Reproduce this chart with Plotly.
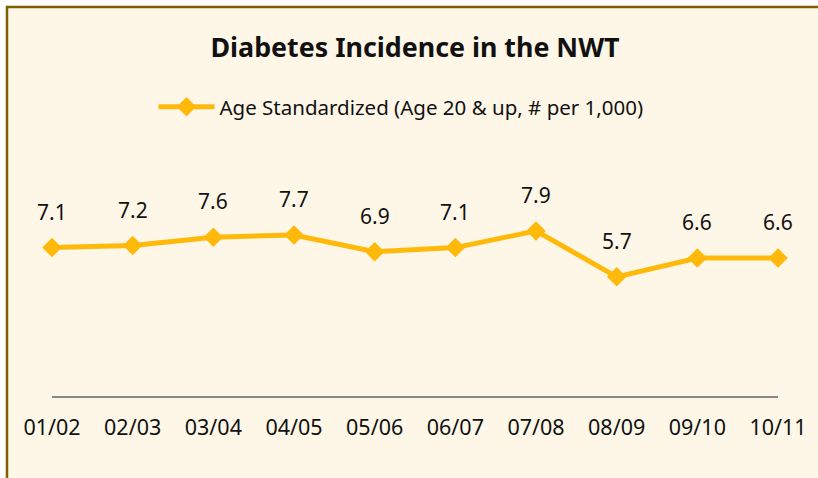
import plotly.graph_objects as go

years = ["01/02", "02/03", "03/04", "04/05", "05/06", "06/07", "07/08", "08/09", "09/10", "10/11"]
rates = [7.1, 7.2, 7.6, 7.7, 6.9, 7.1, 7.9, 5.7, 6.6, 6.6]
series_name = "Age Standardized (Age 20 & up, # per 1,000)"
title_text = "Diabetes Incidence in the NWT"

GOLD = "#FFB90A"
CREAM = "#FEF7E7"
FONT = "Noto Sans"

W, H = 818, 478
L, R, T, B = 52, 40, 187, 82
pw, ph = W - L - R, H - T - B

fig = go.Figure()
fig.add_trace(go.Scatter(
    x=list(range(len(years))), y=rates, mode="lines+markers", name=series_name,
    line=dict(color=GOLD, width=5),
    marker=dict(symbol="diamond", size=15, color=GOLD),
    cliponaxis=False,
))

for i, v in enumerate(rates):
    fig.add_annotation(x=i, y=v, text=f"{v:.1f}", showarrow=False,
                       yshift=36, font=dict(family=FONT, size=21, color="#111111"))

fig.add_shape(type="rect", xref="paper", yref="paper",
              x0=(7 - L) / pw, x1=2, y0=-2, y1=(H - B - 7) / ph,
              fillcolor=CREAM, line=dict(color="#7F6000", width=2.5), layer="below")

fig.update_layout(
    width=W, height=H,
    margin=dict(l=L, r=R, t=T, b=B),
    paper_bgcolor="white", plot_bgcolor="rgba(0,0,0,0)",
    title=dict(text=f"<b>{title_text}</b>", x=415 / W, xanchor="center",
               y=1 - 48 / H, yanchor="middle",
               font=dict(family=FONT, size=26.8, color="#111111")),
    showlegend=True,
    legend=dict(x=(401 - L) / pw, xanchor="center", y=(H - B - 107) / ph, yanchor="middle",
                orientation="h", bgcolor="rgba(0,0,0,0)",
                font=dict(family=FONT, size=20.5, color="#111111"), itemwidth=56),
    xaxis=dict(range=[0, 9], tickmode="array", tickvals=list(range(len(years))),
               ticktext=years, showgrid=False, zeroline=False,
               showline=True, linecolor="#888888", linewidth=2,
               ticks="", ticklabelstandoff=11,
               tickfont=dict(family=FONT, size=21.5, color="#111111")),
    yaxis=dict(range=[0, 10], visible=False, showgrid=False, zeroline=False),
)

fig.write_html("out.html", config={"displayModeBar": False},
               post_script="document.body.style.margin='0';document.body.style.overflow='hidden';")
